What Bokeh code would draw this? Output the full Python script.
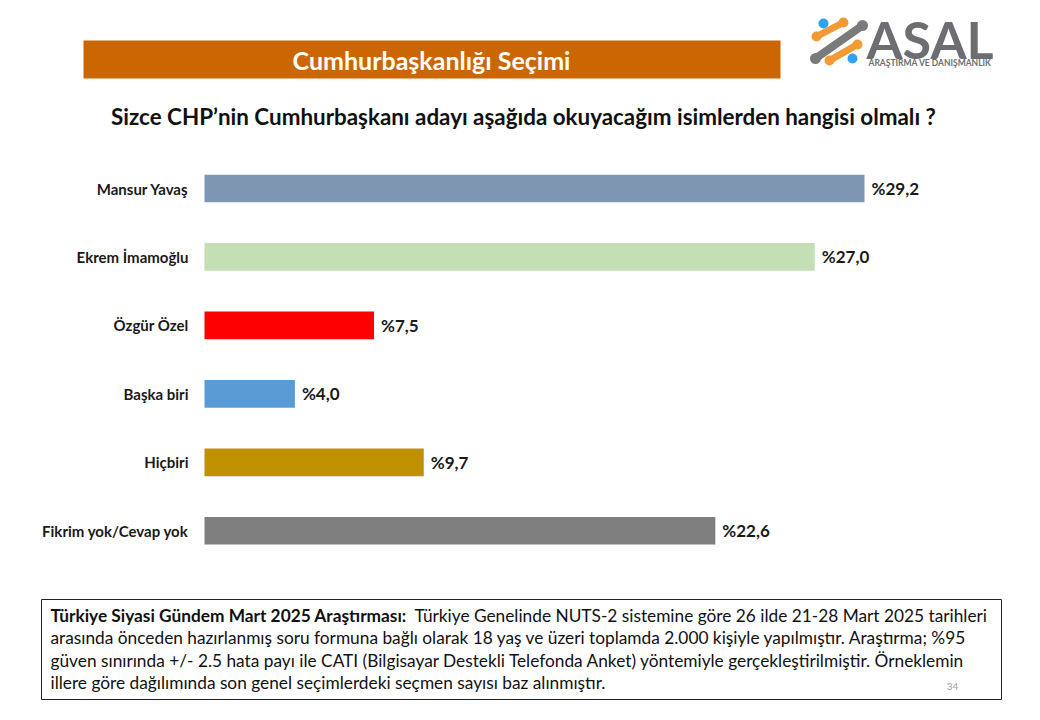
import numpy as np
from bokeh.plotting import figure
from bokeh.models import Range1d, ColumnDataSource
from bokeh.core.properties import value
from bokeh.embed import file_html
from bokeh.resources import INLINE

# ---- data ----
categories = ["Mansur Yavaş", "Ekrem İmamoğlu", "Özgür Özel", "Başka biri", "Hiçbiri", "Fikrim yok/Cevap yok"]
values = [29.2, 27.0, 7.5, 4.0, 9.7, 22.6]
colors = ["#7F96B2", "#C4DFB3", "#FF0000", "#5B9BD5", "#BF9000", "#7F7F7F"]

header = "Cumhurbaşkanlığı Seçimi"
question = "Sizce CHP’nin Cumhurbaşkanı adayı aşağıda okuyacağım isimlerden hangisi olmalı ?"
note_bold = "Türkiye Siyasi Gündem Mart 2025 Araştırması:"
note_lines = [
    "Türkiye Genelinde NUTS-2 sistemine göre 26 ilde  21-28 Mart 2025 tarihleri",
    "arasında önceden hazırlanmış soru formuna bağlı olarak 18 yaş ve üzeri toplamda 2.000 kişiyle yapılmıştır. Araştırma; %95",
    "güven sınırında +/- 2.5 hata payı ile  CATI (Bilgisayar Destekli Telefonda Anket) yöntemiyle gerçekleştirilmiştir. Örneklemin",
    "illere göre dağılımında son genel seçimlerdeki seçmen sayısı baz alınmıştır.",
]
page_no = "34"

W, H = 1040, 720
FONT = "Lato"

p = figure(width=W, height=H, x_range=Range1d(0, W), y_range=Range1d(H, 0),
           min_border=0, output_backend="svg", toolbar_location=None, tools="")
p.axis.visible = False
p.grid.visible = False
p.outline_line_color = None
p.background_fill_color = "white"
p.border_fill_color = "white"

# background gradient
ys = np.arange(H)
g = np.clip(255 - np.clip(ys - 90, 0, None) * (40.0 / (H - 90)), 0, 255).astype(np.uint32)
img = np.zeros((H, 2), dtype=np.uint32)
col = (255 << 24) | (g << 16) | (g << 8) | g
img[:, 0] = col[::-1]
img[:, 1] = col[::-1]
p.image_rgba(image=[img], x=0, y=H, dw=W, dh=H)

# value / category scales
x0_px, x1_px = 204, 864
px_per = (x1_px - x0_px) / max(values)
p.extra_x_ranges = {"val": Range1d(-x0_px / px_per, (W - x0_px) / px_per)}
top_c, step = 188.0, 68.45
p.extra_y_ranges = {"cat": Range1d(start=(H - top_c) / step, end=-top_c / step)}

labels = ["%" + f"{v:.1f}".replace(".", ",") for v in values]
src = ColumnDataSource(dict(idx=list(range(len(categories))), cat=categories, val=values,
                            color=colors, label=labels))

p.hbar(y="idx", left=0, right="val", height=0.405, fill_color="color", line_color=None,
       source=src, x_range_name="val", y_range_name="cat")
p.text(x="val", y="idx", text="label", x_offset=7, text_baseline="middle",
       text_font=value(FONT), text_font_style="bold", text_font_size="17px",
       text_color="#1A1A1A", source=src, x_range_name="val", y_range_name="cat")
p.text(x=0, y="idx", text="cat", x_offset=-16, text_align="right", text_baseline="middle",
       text_font=value(FONT), text_font_style="bold", text_font_size="15px",
       text_color="#1A1A1A", source=src, x_range_name="val", y_range_name="cat")

# header box
p.quad(left=[83], right=[780], top=[40], bottom=[78], fill_color="#CC6600", line_color=None)
p.text(x=[431], y=[59], text=[header], text_align="center", text_baseline="middle",
       text_font=value(FONT), text_font_style="bold", text_font_size="25px", text_color="white")

# question
p.text(x=[523], y=[116], text=[question], text_align="center", text_baseline="middle",
       text_font=value(FONT), text_font_style="bold", text_font_size="22.4px", text_color="#111111")

# footnote box
p.quad(left=[41], right=[1001], top=[599], bottom=[699], fill_color=None,
       line_color="#222222", line_width=1)
p.text(x=[50], y=[615], text=[note_bold], text_baseline="middle",
       text_font=value(FONT), text_font_style="bold", text_font_size="17.3px", text_color="#111111")
p.text(x=[414], y=[615], text=[note_lines[0]], text_baseline="middle",
       text_font=value(FONT), text_font_size="17.3px", text_color="#111111")
p.text(x=[50, 50, 50], y=[637, 660, 682], text=note_lines[1:], text_baseline="middle",
       text_font=value(FONT), text_font_size="17.3px", text_color="#111111")
p.text(x=[952], y=[686], text=[page_no], text_align="center", text_baseline="middle",
       text_font=value(FONT), text_font_size="10px", text_color="#A0A0A0")

# logo
p.segment(x0=[815], y0=[58], x1=[862], y1=[25], line_color="#7A7A7A", line_width=8, line_cap="round")
p.scatter(x=[815, 862], y=[58, 25], size=11, marker="circle", fill_color="#7A7A7A", line_color=None)
p.segment(x0=[816, 829], y0=[36, 60], x1=[843, 857], y1=[22, 44],
          line_color="#F39A34", line_width=7, line_cap="round")
p.scatter(x=[816, 843, 829, 857], y=[36, 22, 60, 44], size=10, marker="circle",
          fill_color="#F39A34", line_color=None)
p.scatter(x=[823, 852], y=[23, 58], size=10, marker="circle", fill_color="#2EA3F2", line_color=None)
p.text(x=[866], y=[38], text=["ASAL"], text_baseline="middle",
       text_font=value(FONT), text_font_style="bold", text_font_size="52px", text_color="#6D6E71")
p.text(x=[868], y=[62], text=["ARAŞTIRMA VE DANIŞMANLIK"], text_baseline="middle",
       text_font=value(FONT), text_font_style="bold", text_font_size="8.5px", text_color="#6D6E71")

open("out.html", "w").write(file_html(p, INLINE))
